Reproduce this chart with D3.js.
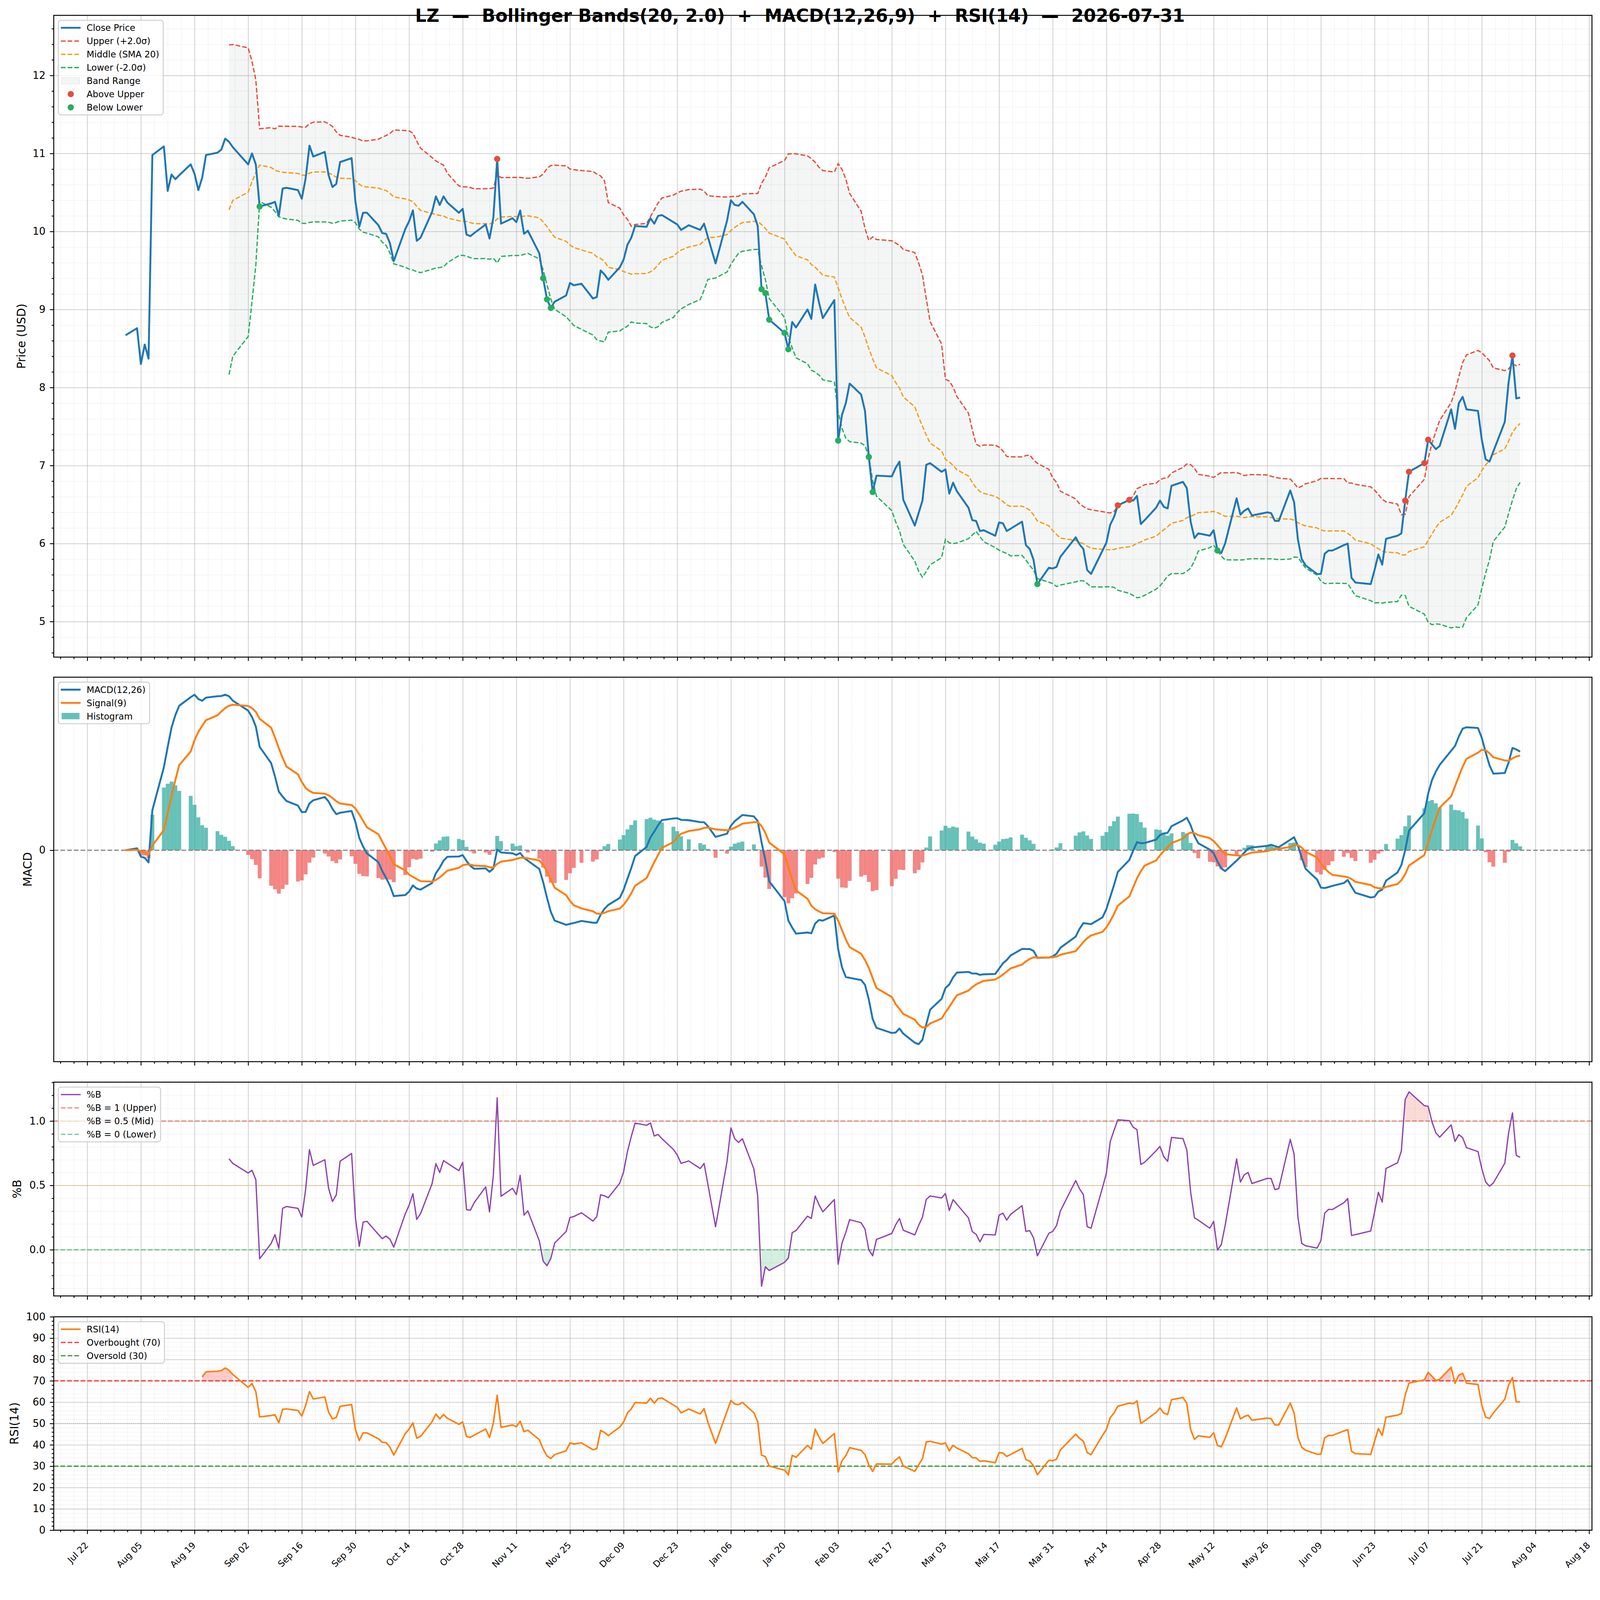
<!DOCTYPE html>
<html>
<head>
<meta charset="utf-8">
<script src="https://cdn.jsdelivr.net/npm/d3@7"></script>
<style>
    html, body { margin: 0; padding: 0; background: #ffffff; overflow: hidden; }
    svg { display: block; width: 100vw; height: 100vh; font-family: "DejaVu Sans", sans-serif; }
</style>
</head>
<body>
<svg id="chart" viewBox="0 0 4378 4322" preserveAspectRatio="xMidYMin meet"></svg>
<script>
// ---- data: daily closes (exchange trading days), one list per month ----
var closeAug = [8.67, 8.76, 8.30, 8.55, 8.37, 10.98, 11.09, 10.52, 10.73, 10.67, 10.72, 10.86, 10.74, 10.53, 10.69, 10.98, 11.01, 11.05, 11.19, 11.15, 11.08];
var closeSep = [10.86, 11.00, 10.86, 10.32, 10.36, 10.38, 10.20, 10.55, 10.56, 10.53, 10.42, 10.68, 11.10, 10.96, 11.02, 10.72, 10.57, 10.61, 10.89, 10.94, 10.38];
var closeOct = [10.06, 10.24, 10.24, 10.08, 9.98, 9.97, 9.85, 9.62, 10.03, 10.13, 10.27, 9.88, 9.92, 10.25, 10.45, 10.34, 10.45, 10.37, 10.24, 10.29, 9.96, 9.94, 9.98];
var closeNov = [10.09, 9.91, 10.18, 10.93, 10.10, 10.17, 10.12, 10.27, 9.97, 10.01, 9.72, 9.40, 9.13, 9.02, 9.10, 9.18, 9.34, 9.31, 9.33];
var closeDec = [9.14, 9.16, 9.50, 9.45, 9.38, 9.54, 9.64, 9.83, 9.92, 10.07, 10.06, 10.17, 10.10, 10.20, 10.21, 10.12, 10.09, 10.02, 10.08, 10.02, 10.10, 9.93];
var closeJan = [9.59, 10.14, 10.40, 10.34, 10.33, 10.38, 10.22, 10.07, 9.26, 9.21, 8.87, 8.70, 8.49, 8.84, 8.77, 9.00, 8.88, 9.32, 9.09, 8.89];
var closeFeb = [9.12, 7.32, 7.65, 7.80, 8.05, 7.91, 7.70, 7.11, 6.66, 6.87, 6.86, 6.97, 7.05, 6.56, 6.23, 6.39, 6.55, 7.01, 7.03];
var closeMar = [6.92, 6.95, 6.64, 6.78, 6.67, 6.46, 6.30, 6.29, 6.16, 6.17, 6.10, 6.27, 6.26, 6.16, 6.19, 6.28, 5.98, 5.93, 5.79, 5.48, 5.69, 5.68];
var closeApr = [5.70, 5.83, 6.08, 5.99, 5.93, 5.66, 5.61, 5.91, 6.01, 6.24, 6.34, 6.49, 6.56, 6.55, 6.61, 6.25, 6.30, 6.46, 6.55, 6.47, 6.45];
var closeMay = [6.74, 6.79, 6.71, 6.28, 6.07, 6.13, 6.10, 6.17, 5.91, 5.88, 6.00, 6.58, 6.37, 6.42, 6.45, 6.36, 6.40, 6.39, 6.29, 6.29];
var closeJun = [6.68, 6.53, 6.05, 5.80, 5.72, 5.61, 5.61, 5.87, 5.91, 5.91, 5.98, 6.00, 5.56, 5.50, 5.48, 5.66, 5.86, 5.73, 6.06, 6.10, 6.13];
var closeJul = [6.55, 6.92, 7.03, 7.33, 7.27, 7.21, 7.25, 7.72, 7.47, 7.80, 7.88, 7.72, 7.70, 7.33, 7.08, 7.05, 7.18, 7.56, 8.07, 8.41, 7.86, 7.87];

// exchange holidays (no bar / no point on these weekdays)
var holidays = ["2025-09-01", "2025-11-27", "2025-12-25", "2026-01-01", "2026-01-19",
    "2026-02-16", "2026-04-03", "2026-05-25", "2026-06-19", "2026-07-03"];

var firstDay = "2025-08-01";
var firstDateTick = "2025-07-22";   // date ticks every 14 days
var ticker = "LZ", asOf = "2026-07-31";
var bbPeriod = 20, bbMult = 2.0;
var macdFast = 12, macdSlow = 26, macdSignal = 9;
var rsiPeriod = 14;

var W = 4378, H = 4322;
var L = 147, R = 4356;
var boxes = {
    price: {top: 42, bottom: 1798},
    macd: {top: 1853, bottom: 2905},
    pb: {top: 2961, bottom: 3546},
    rsi: {top: 3603, bottom: 4187}
};
var dayMs = 864e5;

var closes = [].concat(closeAug, closeSep, closeOct, closeNov, closeDec, closeJan,
    closeFeb, closeMar, closeApr, closeMay, closeJun, closeJul);
var n = closes.length;
var fmtIso = d3.utcFormat("%Y-%m-%d");
var days = d3.utcDay.range(new Date(firstDay), d3.utcDay.offset(new Date(firstDay), 420))
    .filter(function (d) {
        var w = d.getUTCDay();
        return w > 0 && w < 6 && holidays.indexOf(fmtIso(d)) < 0;
    }).slice(0, n);
var idx = d3.range(n);

// ---- indicators (same definitions as the chart title) ----
var middle = [], upper = [], lower = [];
closes.forEach(function (c, i) {
    if (i < bbPeriod - 1) {
        middle.push(null); upper.push(null); lower.push(null);
        return;
    }
    var win = closes.slice(i - bbPeriod + 1, i + 1);
    var m = d3.mean(win), sd = d3.deviation(win);
    middle.push(m);
    upper.push(m + bbMult * sd);
    lower.push(m - bbMult * sd);
});

function ema(vals, span) {
    var a = 2 / (span + 1), out = [];
    vals.forEach(function (v, i) {
        out.push(i === 0 ? v : a * v + (1 - a) * out[i - 1]);
    });
    return out;
}
var emaFast = ema(closes, macdFast), emaSlow = ema(closes, macdSlow);
var macd = closes.map(function (c, i) { return emaFast[i] - emaSlow[i]; });
var signal = ema(macd, macdSignal);
var hist = macd.map(function (m, i) { return m - signal[i]; });

var rsi = closes.map(function () { return null; });
var avgGain = 0, avgLoss = 0;
for (var i = 1; i < n; i++) {
    var diff = closes[i] - closes[i - 1];
    var gain = Math.max(diff, 0), loss = Math.max(-diff, 0);
    if (i === 1) {
        avgGain = gain; avgLoss = loss;
    } else {
        avgGain = avgGain * (rsiPeriod - 1) / rsiPeriod + gain / rsiPeriod;
        avgLoss = avgLoss * (rsiPeriod - 1) / rsiPeriod + loss / rsiPeriod;
    }
    if (i >= rsiPeriod) rsi[i] = avgLoss === 0 ? 100 : 100 - 100 / (1 + avgGain / avgLoss);
}

var pctB = closes.map(function (c, i) {
    return upper[i] === null ? null : (c - lower[i]) / (upper[i] - lower[i]);
});

// ---- scales ----
var xPad = 0.5 * dayMs + 0.05 * (days[n - 1] - days[0] + dayMs);
var x = d3.scaleUtc()
    .domain([new Date(+days[0] - xPad), new Date(+days[n - 1] + xPad)])
    .range([L, R]);

function padded(vals) {
    var e = d3.extent(vals.filter(function (v) { return v !== null; }));
    var m = (e[1] - e[0]) * 0.05;
    return [e[0] - m, e[1] + m];
}
var yP = d3.scaleLinear().domain(padded(closes.concat(upper, lower)))
    .range([boxes.price.bottom, boxes.price.top]);
var yM = d3.scaleLinear().domain(padded(macd.concat(signal, hist, [0])))
    .range([boxes.macd.bottom, boxes.macd.top]);
var yB = d3.scaleLinear().domain(padded(pctB.concat([0, 1])))
    .range([boxes.pb.bottom, boxes.pb.top]);
var yR = d3.scaleLinear().domain([0, 100]).range([boxes.rsi.bottom, boxes.rsi.top]);

// date ticks
var xMajor = [], xMinor = [];
var t0 = new Date(firstDateTick), xd = x.domain();
for (var t = +t0; t <= +xd[1]; t += 14 * dayMs) xMajor.push(new Date(t));
for (var s = +t0 - 3.5 * dayMs * Math.floor((t0 - xd[0]) / (3.5 * dayMs)); s <= +xd[1]; s += 3.5 * dayMs) {
    if (s >= +xd[0] && Math.round((s - t0) / dayMs) % 14 !== 0) xMinor.push(new Date(s));
}

function stepTicks(dom, step, skip) {
    var k0 = Math.ceil(dom[0] / step - 1e-9), k1 = Math.floor(dom[1] / step + 1e-9);
    return d3.range(k0, k1 + 1).map(function (k) { return +(k * step).toFixed(6); })
        .filter(function (v) { return !skip || Math.abs(v / skip - Math.round(v / skip)) > 1e-6; });
}

// ---- drawing ----
var svg = d3.select("#chart");
svg.append("rect").attr("width", W).attr("height", H).attr("fill", "#ffffff");
var defs = svg.append("defs");

function makePanel(key) {
    var box = boxes[key];
    defs.append("clipPath").attr("id", "clip-" + key).append("rect")
        .attr("x", L).attr("y", box.top).attr("width", R - L).attr("height", box.bottom - box.top);
    var g = svg.append("g").attr("class", "panel-" + key);
    return {
        box: box,
        g: g,
        grid: g.append("g"),
        plot: g.append("g").attr("clip-path", "url(#clip-" + key + ")")
    };
}

function styleGrid(sel, major) {
    sel.attr("font-size", null).attr("font-family", null);
    sel.select(".domain").remove();
    sel.selectAll("line")
        .attr("stroke", "#b0b0b0")
        .attr("stroke-opacity", major ? 0.6 : 0.45)
        .attr("stroke-width", major ? 2.2 : 1.5)
        .attr("stroke-dasharray", major ? null : "1.6,2.8");
}

function drawGrid(p, y, yMajor, yMinor) {
    var h = p.box.bottom - p.box.top;
    p.grid.append("g").attr("transform", "translate(0," + p.box.bottom + ")")
        .call(d3.axisBottom(x).tickValues(xMinor).tickSize(-h).tickFormat(""))
        .call(styleGrid, false);
    if (yMinor) {
        p.grid.append("g").attr("transform", "translate(" + L + ",0)")
            .call(d3.axisLeft(y).tickValues(yMinor).tickSize(-(R - L)).tickFormat(""))
            .call(styleGrid, false);
    }
    p.grid.append("g").attr("transform", "translate(0," + p.box.bottom + ")")
        .call(d3.axisBottom(x).tickValues(xMajor).tickSize(-h).tickFormat(""))
        .call(styleGrid, true);
    if (yMajor) {
        p.grid.append("g").attr("transform", "translate(" + L + ",0)")
            .call(d3.axisLeft(y).tickValues(yMajor).tickSize(-(R - L)).tickFormat(""))
            .call(styleGrid, true);
    }
}

function styleTicks(sel, size) {
    sel.attr("font-size", null).attr("font-family", null);
    sel.select(".domain").remove();
    sel.selectAll("line").attr("stroke", "#000").attr("stroke-width", 2.4);
    sel.selectAll("text").attr("fill", "#000").style("font-size", (size || 27.8) + "px");
}

function drawAxes(p, y, yTicks, yMinor, yFmt, label, labelX, withDates) {
    var b = p.box;
    var gx = p.g.append("g").attr("transform", "translate(0," + b.bottom + ")");
    gx.append("g").call(d3.axisBottom(x).tickValues(xMinor).tickSize(5.5).tickFormat(""))
        .call(styleTicks);
    var gMaj = gx.append("g")
        .call(d3.axisBottom(x).tickValues(xMajor).tickSize(10.5)
            .tickFormat(withDates ? d3.utcFormat("%b %d") : ""))
        .call(styleTicks, 24.3);
    if (withDates) {
        gMaj.selectAll("text")
            .attr("x", 0).attr("y", 0).attr("dy", 0)
            .attr("text-anchor", "end")
            .attr("transform", "translate(4,43) rotate(-45)");
    }
    var gy = p.g.append("g").attr("transform", "translate(" + L + ",0)");
    if (yMinor) {
        gy.append("g").call(d3.axisLeft(y).tickValues(yMinor).tickSize(5.5).tickFormat(""))
            .call(styleTicks);
    }
    gy.append("g").call(d3.axisLeft(y).tickValues(yTicks).tickSize(10.5).tickPadding(12).tickFormat(yFmt))
        .call(styleTicks);
    p.g.append("text")
        .attr("transform", "translate(" + labelX + "," + (b.top + b.bottom) / 2 + ") rotate(-90)")
        .attr("dy", "0.35em")
        .attr("text-anchor", "middle")
        .style("font-size", "31.5px")
        .text(label);
    p.g.append("rect")
        .attr("x", L).attr("y", b.top).attr("width", R - L).attr("height", b.bottom - b.top)
        .attr("fill", "none").attr("stroke", "#000").attr("stroke-width", 2.6);
}

// legend: items {label, kind: line|patch|dot, color, dash, width, opacity}
function drawLegend(p, items) {
    var x0 = L + 12.6, y0 = p.box.top + 13.5, rowH = 36.3;
    var lg = p.g.append("g").attr("class", "legend");
    var maxW = 0;
    items.forEach(function (it, k) {
        var cy = y0 + 20.5 + k * rowH;
        if (it.kind === "line") {
            lg.append("line")
                .attr("x1", x0 + 7).attr("x2", x0 + 61).attr("y1", cy).attr("y2", cy)
                .attr("stroke", it.color).attr("stroke-width", it.width)
                .attr("stroke-opacity", it.opacity || 1)
                .attr("stroke-dasharray", it.dash || null);
        } else if (it.kind === "patch") {
            lg.append("rect")
                .attr("x", x0 + 9).attr("y", cy - 9).attr("width", 49).attr("height", 17.5)
                .attr("fill", it.color).attr("fill-opacity", it.opacity || 1)
                .attr("stroke", it.stroke || "none").attr("stroke-opacity", 0.3);
        } else {
            lg.append("circle").attr("cx", x0 + 34).attr("cy", cy).attr("r", 8.5).attr("fill", it.color);
        }
        var tx = lg.append("text").attr("x", x0 + 77.5).attr("y", cy).attr("dy", "0.36em")
            .style("font-size", "24.3px").text(it.label);
        maxW = Math.max(maxW, tx.node().getComputedTextLength());
    });
    lg.insert("rect", ":first-child")
        .attr("x", x0).attr("y", y0)
        .attr("width", 77.5 + maxW + 11).attr("height", (items.length - 1) * rowH + 41)
        .attr("rx", 7)
        .attr("fill", "#fff").attr("fill-opacity", 0.8)
        .attr("stroke", "#cccccc").attr("stroke-width", 2.5);
}

function lineOf(xs, y, arr) {
    return d3.line()
        .defined(function (i) { return arr[i] !== null; })
        .x(function (i) { return x(days[i]); })
        .y(function (i) { return y(arr[i]); })(xs);
}

var dash = "12.8,5.6";

// ---- price panel ----
var pp = makePanel("price");
var priceMajor = stepTicks(yP.domain(), 1), priceMinor = stepTicks(yP.domain(), 0.2, 1);
drawGrid(pp, yP, priceMajor, priceMinor);

pp.plot.append("path")
    .attr("d", d3.area()
        .defined(function (i) { return upper[i] !== null; })
        .x(function (i) { return x(days[i]); })
        .y0(function (i) { return yP(lower[i]); })
        .y1(function (i) { return yP(upper[i]); })(idx))
    .attr("fill", "#95a5a6").attr("fill-opacity", 0.1);
[[upper, "#e74c3c"], [middle, "#f39c12"], [lower, "#27ae60"]].forEach(function (b) {
    pp.plot.append("path").attr("d", lineOf(idx, yP, b[0]))
        .attr("fill", "none").attr("stroke", b[1]).attr("stroke-width", 3.5)
        .attr("stroke-dasharray", dash);
});
pp.plot.append("path").attr("d", lineOf(idx, yP, closes))
    .attr("fill", "none").attr("stroke", "#1f77b4").attr("stroke-width", 5.2)
    .attr("stroke-linejoin", "round");

var aboveIdx = idx.filter(function (i) { return upper[i] !== null && closes[i] > upper[i]; });
var belowIdx = idx.filter(function (i) { return lower[i] !== null && closes[i] < lower[i]; });
pp.plot.selectAll("circle.above").data(aboveIdx).enter().append("circle")
    .attr("class", "above")
    .attr("cx", function (i) { return x(days[i]); })
    .attr("cy", function (i) { return yP(closes[i]); })
    .attr("r", 8.5).attr("fill", "#e74c3c");
pp.plot.selectAll("circle.below").data(belowIdx).enter().append("circle")
    .attr("class", "below")
    .attr("cx", function (i) { return x(days[i]); })
    .attr("cy", function (i) { return yP(closes[i]); })
    .attr("r", 8.5).attr("fill", "#27ae60");

drawAxes(pp, yP, priceMajor, priceMinor, d3.format("d"), "Price (USD)", 58, false);
drawLegend(pp, [
    {label: "Close Price", kind: "line", color: "#1f77b4", width: 5.2},
    {label: "Upper (+2.0\u03c3)", kind: "line", color: "#e74c3c", width: 3.5, dash: dash},
    {label: "Middle (SMA 20)", kind: "line", color: "#f39c12", width: 3.5, dash: dash},
    {label: "Lower (-2.0\u03c3)", kind: "line", color: "#27ae60", width: 3.5, dash: dash},
    {label: "Band Range", kind: "patch", color: "#95a5a6", opacity: 0.1, stroke: "#95a5a6"},
    {label: "Above Upper", kind: "dot", color: "#e74c3c"},
    {label: "Below Lower", kind: "dot", color: "#27ae60"}
]);

// ---- MACD panel ----
var mp = makePanel("macd");
drawGrid(mp, yM, null, null);
mp.plot.selectAll("rect.bar").data(idx).enter().append("rect")
    .attr("class", "bar")
    .attr("x", function (i) { return x(new Date(+days[i] - dayMs / 2)); })
    .attr("width", function (i) { return x(new Date(+days[i] + dayMs / 2)) - x(new Date(+days[i] - dayMs / 2)); })
    .attr("y", function (i) { return yM(Math.max(hist[i], 0)); })
    .attr("height", function (i) { return Math.abs(yM(hist[i]) - yM(0)); })
    .attr("fill", function (i) { return hist[i] >= 0 ? "#26a69a" : "#ef5350"; })
    .attr("fill-opacity", 0.7);
mp.plot.append("line").attr("x1", L).attr("x2", R).attr("y1", yM(0)).attr("y2", yM(0))
    .attr("stroke", "#808080").attr("stroke-width", 3).attr("stroke-dasharray", dash);
mp.plot.append("path").attr("d", lineOf(idx, yM, macd))
    .attr("fill", "none").attr("stroke", "#1f77b4").attr("stroke-width", 5.2).attr("stroke-linejoin", "round");
mp.plot.append("path").attr("d", lineOf(idx, yM, signal))
    .attr("fill", "none").attr("stroke", "#ff7f0e").attr("stroke-width", 5.2).attr("stroke-linejoin", "round");
drawAxes(mp, yM, [0], null, d3.format("d"), "MACD", 76, false);
drawLegend(mp, [
    {label: "MACD(12,26)", kind: "line", color: "#1f77b4", width: 5.2},
    {label: "Signal(9)", kind: "line", color: "#ff7f0e", width: 5.2},
    {label: "Histogram", kind: "patch", color: "#26a69a", opacity: 0.7}
]);

// ---- %B panel ----
var bp = makePanel("pb");
var pbMajor = stepTicks(yB.domain(), 0.5), pbMinor = stepTicks(yB.domain(), 0.1, 0.5);
drawGrid(bp, yB, pbMajor, pbMinor);
bp.plot.append("path")
    .attr("d", d3.area()
        .defined(function (i) { return pctB[i] !== null && pctB[i] > 1; })
        .x(function (i) { return x(days[i]); })
        .y0(yB(1))
        .y1(function (i) { return yB(pctB[i]); })(idx))
    .attr("fill", "#e74c3c").attr("fill-opacity", 0.2);
bp.plot.append("path")
    .attr("d", d3.area()
        .defined(function (i) { return pctB[i] !== null && pctB[i] < 0; })
        .x(function (i) { return x(days[i]); })
        .y0(yB(0))
        .y1(function (i) { return yB(pctB[i]); })(idx))
    .attr("fill", "#27ae60").attr("fill-opacity", 0.2);
var pbRefs = [
    {v: 1, color: "#e74c3c", dash: dash, w: 3, label: "%B = 1 (Upper)"},
    {v: 0.5, color: "#f39c12", dash: "1.6,3", w: 2.4, label: "%B = 0.5 (Mid)"},
    {v: 0, color: "#27ae60", dash: dash, w: 3, label: "%B = 0 (Lower)"}
];
pbRefs.forEach(function (r) {
    bp.plot.append("line").attr("x1", L).attr("x2", R).attr("y1", yB(r.v)).attr("y2", yB(r.v))
        .attr("stroke", r.color).attr("stroke-width", r.w).attr("stroke-opacity", 0.7)
        .attr("stroke-dasharray", r.dash);
});
bp.plot.append("path").attr("d", lineOf(idx, yB, pctB))
    .attr("fill", "none").attr("stroke", "#8e44ad").attr("stroke-width", 3.5).attr("stroke-linejoin", "round");
drawAxes(bp, yB, pbMajor, pbMinor, d3.format(".1f"), "%B", 47, false);
drawLegend(bp, [{label: "%B", kind: "line", color: "#8e44ad", width: 3.5}].concat(pbRefs.map(function (r) {
    return {label: r.label, kind: "line", color: r.color, width: r.w, dash: r.dash, opacity: 0.7};
})));

// ---- RSI panel ----
var rp = makePanel("rsi");
var rsiMajor = stepTicks([0, 100], 10), rsiMinor = stepTicks([0, 100], 2, 10);
drawGrid(rp, yR, rsiMajor, rsiMinor);
rp.plot.append("path")
    .attr("d", d3.area()
        .defined(function (i) { return rsi[i] !== null && rsi[i] >= 70; })
        .x(function (i) { return x(days[i]); })
        .y0(yR(70))
        .y1(function (i) { return yR(rsi[i]); })(idx))
    .attr("fill", "red").attr("fill-opacity", 0.2);
rp.plot.append("path")
    .attr("d", d3.area()
        .defined(function (i) { return rsi[i] !== null && rsi[i] <= 30; })
        .x(function (i) { return x(days[i]); })
        .y0(yR(30))
        .y1(function (i) { return yR(rsi[i]); })(idx))
    .attr("fill", "green").attr("fill-opacity", 0.2);
rp.plot.append("line").attr("x1", L).attr("x2", R).attr("y1", yR(50)).attr("y2", yR(50))
    .attr("stroke", "#808080").attr("stroke-width", 2).attr("stroke-opacity", 0.7).attr("stroke-dasharray", "2,3.3");
var rsiRefs = [
    {v: 70, color: "red", label: "Overbought (70)"},
    {v: 30, color: "green", label: "Oversold (30)"}
];
rsiRefs.forEach(function (r) {
    rp.plot.append("line").attr("x1", L).attr("x2", R).attr("y1", yR(r.v)).attr("y2", yR(r.v))
        .attr("stroke", r.color).attr("stroke-width", 3.5).attr("stroke-opacity", 0.75)
        .attr("stroke-dasharray", dash);
});
rp.plot.append("path").attr("d", lineOf(idx, yR, rsi))
    .attr("fill", "none").attr("stroke", "#ff7f0e").attr("stroke-width", 4.2).attr("stroke-linejoin", "round");
drawAxes(rp, yR, rsiMajor, rsiMinor, d3.format("d"), "RSI(14)", 39, true);
drawLegend(rp, [{label: "RSI(14)", kind: "line", color: "#ff7f0e", width: 4.2}].concat(rsiRefs.map(function (r) {
    return {label: r.label, kind: "line", color: r.color, width: 3.5, dash: dash, opacity: 0.75};
})));

// ---- title (sits on the top spine like the original) ----
svg.append("text")
    .attr("x", W / 2).attr("y", 60)
    .attr("text-anchor", "middle")
    .style("font-size", "48.6px").style("font-weight", "bold").style("white-space", "pre")
    .text(ticker + "  \u2014  Bollinger Bands(" + bbPeriod + ", " + bbMult.toFixed(1) + ")  +  MACD(" +
        macdFast + "," + macdSlow + "," + macdSignal + ")  +  RSI(" + rsiPeriod + ")  \u2014  " + asOf);
</script>
</body>
</html>
